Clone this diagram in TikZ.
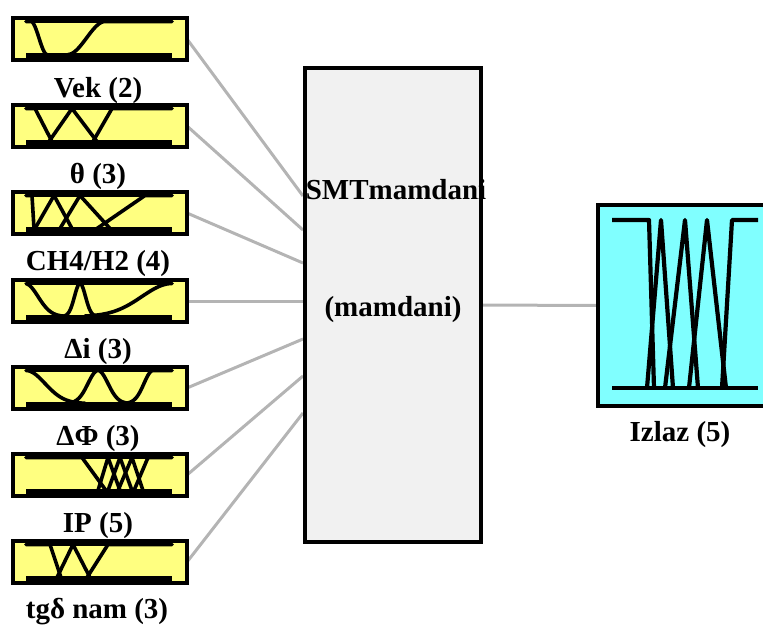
\documentclass[tikz,border=0pt]{standalone}
\usepackage{fontspec}
\setmainfont{Liberation Serif}
\definecolor{inyellow}{RGB}{255,255,128}
\definecolor{outcyan}{RGB}{128,255,255}
\definecolor{fisgray}{RGB}{241,241,241}
\definecolor{conngray}{RGB}{180,180,180}
\pgfdeclarelayer{bg}
\pgfsetlayers{bg,main}
\begin{document}
\begin{tikzpicture}[x=1pt,y=-1pt,
  inbox/.style={draw=black, line width=4pt, fill=inyellow, minimum width=174pt, minimum height=42pt, inner sep=0pt, outer sep=0pt},
  mf/.style={line width=3.6pt, line join=round, line cap=round},
  omf/.style={line width=4.2pt, line join=round},
  topline/.style={line width=3.5pt},
  baseline/.style={line width=5pt},
  conn/.style={draw=conngray, line width=3pt},
  lbl/.style={font=\fontsize{29}{34}\selectfont\bfseries, inner sep=0pt, anchor=base}]
\useasboundingbox (0,0) rectangle (763,625);

% ---------- input 1 : Vek ----------
\begin{scope}[shift={(0,16)}]
  \node[inbox] (in1) at (100,23) {};
  \draw[topline] (26,5.5) -- (172,5.5);
  \draw[baseline] (26,39.5) -- (172,39.5);
  \draw[mf] (26,5.5) -- (31,5.5) -- plot[domain=0:1,samples=30] ({31+16*\x},{5.5+33*(3*\x*\x-2*\x*\x*\x)});
  \draw[mf] plot[domain=0:1,samples=30] ({68+37*\x},{38.5-33*(3*\x*\x-2*\x*\x*\x)}) -- (172,5.5);
  \node[lbl] (l1) at (98,81) {Vek (2)};
\end{scope}

% ---------- input 2 : theta ----------
\begin{scope}[shift={(0,103)}]
  \node[inbox] (in2) at (100,23) {};
  \draw[topline] (26,5.5) -- (172,5.5);
  \draw[baseline] (26,39.5) -- (172,39.5);
  \draw[mf] (26,5.5) -- (35,5.5) -- (52,38.5);
  \draw[mf] (49,38.5) -- (72,5.5) -- (97,38.5);
  \draw[mf] (93,38.5) -- (112,5.5) -- (172,5.5);
  \node[lbl] (l2) at (98,80) {θ (3)};
\end{scope}

% ---------- input 3 : CH4/H2 ----------
\begin{scope}[shift={(0,190)}]
  \node[inbox] (in3) at (100,23) {};
  \draw[topline] (26,5.5) -- (172,5.5);
  \draw[baseline] (26,39.5) -- (172,39.5);
  \draw[mf] (26,5.5) -- (32,5.5) -- (34,38.5);
  \draw[mf] (35,38.5) -- (54,5.5) -- (72,38.5);
  \draw[mf] (60,38.5) -- (80,5.5) -- (110,38.5);
  \draw[mf] (97,38.5) -- (145,5.5) -- (172,5.5);
  \node[lbl] (l3) at (98,80) {CH4/H2 (4)};
\end{scope}

% ---------- input 4 : Delta i ----------
\begin{scope}[shift={(0,278)}]
  \node[inbox] (in4) at (100,23) {};
  \draw[topline] (26,5.5) -- (172,5.5);
  \draw[baseline] (26,39.5) -- (172,39.5);
  \draw[mf] plot[domain=26:68,samples=40] (\x,{38.5-33*exp(-0.5*((\x-25)/13)*((\x-25)/13))});
  \draw[mf] plot[domain=62:98,samples=40] (\x,{38.5-33*exp(-0.5*((\x-80)/5.5)*((\x-80)/5.5))});
  \draw[mf] plot[domain=85:172,samples=50] (\x,{38.5-33*exp(-0.5*((\x-172)/30)*((\x-172)/30))});
  \node[lbl] (l4) at (98,80) {Δi (3)};
\end{scope}

% ---------- input 5 : Delta Phi ----------
\begin{scope}[shift={(0,365)}]
  \node[inbox] (in5) at (100,23) {};
  \draw[topline] (26,5.5) -- (172,5.5);
  \draw[baseline] (26,39.5) -- (172,39.5);
  \draw[mf] plot[domain=26:85,samples=40] (\x,{38.5-33*exp(-0.5*((\x-26)/19)*((\x-26)/19))});
  \draw[mf] plot[domain=70:128,samples=40] (\x,{38.5-33*exp(-0.5*((\x-98)/10)*((\x-98)/10))});
  \draw[mf] plot[domain=118:153,samples=30] (\x,{38.5-33*exp(-0.5*((\x-153)/9)*((\x-153)/9))}) -- (172,5.5);
  \node[lbl] (l5) at (98,80) {ΔΦ (3)};
\end{scope}

% ---------- input 6 : IP ----------
\begin{scope}[shift={(0,452)}]
  \node[inbox] (in6) at (100,23) {};
  \draw[topline] (26,5.5) -- (172,5.5);
  \draw[baseline] (26,39.5) -- (172,39.5);
  \draw[mf] (26,5.5) -- (82,5.5) -- (106,38.5);
  \draw[mf] (98,38.5) -- (108,5.5) -- (120,38.5);
  \draw[mf] (108,38.5) -- (120,5.5) -- (132,38.5);
  \draw[mf] (118,38.5) -- (132,5.5) -- (143,38.5);
  \draw[mf] (134,38.5) -- (148,5.5) -- (172,5.5);
  \node[lbl] (l6) at (98,80) {IP (5)};
\end{scope}

% ---------- input 7 : tg delta nam ----------
\begin{scope}[shift={(0,539)}]
  \node[inbox] (in7) at (100,23) {};
  \draw[topline] (26,5.5) -- (172,5.5);
  \draw[baseline] (26,39.5) -- (172,39.5);
  \draw[mf] (26,5.5) -- (50,5.5) -- (61,38.5);
  \draw[mf] (57,38.5) -- (73,5.5) -- (90,38.5);
  \draw[mf] (87,38.5) -- (108,5.5) -- (172,5.5);
  \node[lbl] (l7) at (97,79) {tgδ nam (3)};
\end{scope}

% ---------- FIS box ----------
\node[draw=black, line width=4pt, fill=fisgray, minimum width=176pt, minimum height=474pt, inner sep=0pt, outer sep=0pt] (fis) at (393,305) {};
\node[lbl] (t1) at (396,199) {SMTmamdani};
\node[lbl] (t2) at (393,316) {(mamdani)};

% ---------- output box ----------
\node[draw=black, line width=4pt, fill=outcyan, minimum width=182pt, minimum height=201pt, inner sep=0pt, outer sep=0pt] (out) at (689,305.5) {};
\draw[omf] (612,388) -- (758,388);
\draw[omf] (612,220) -- (649,220) -- (654,388);
\draw[omf] (647,388) -- (661,220) -- (673,388);
\draw[omf] (665,388) -- (685,220) -- (698,388);
\draw[omf] (689,388) -- (707,220) -- (726,388);
\draw[omf] (722,388) -- (732,220) -- (758,220);
\node[lbl] (lo) at (680,441) {Izlaz (5)};

% ---------- connectors ----------
\coordinate (e1) at (303,196);
\coordinate (e2) at (303,230);
\coordinate (e3) at (303,263);
\coordinate (e4) at (303,301);
\coordinate (e5) at (303,339);
\coordinate (e6) at (303,376);
\coordinate (e7) at (303,413);
\begin{pgfonlayer}{bg}
  \draw[conn] (in1.east) -- (e1);
  \draw[conn] (in2.east) -- (e2);
  \draw[conn] (in3.east) -- (e3);
  \draw[conn] (in4.east) -- (e4);
  \draw[conn] (in5.east) -- (e5);
  \draw[conn] (in6.east) -- (e6);
  \draw[conn] (in7.east) -- (e7);
  \draw[conn] (fis.east) -- (out.west);
\end{pgfonlayer}
\end{tikzpicture}
\end{document}
